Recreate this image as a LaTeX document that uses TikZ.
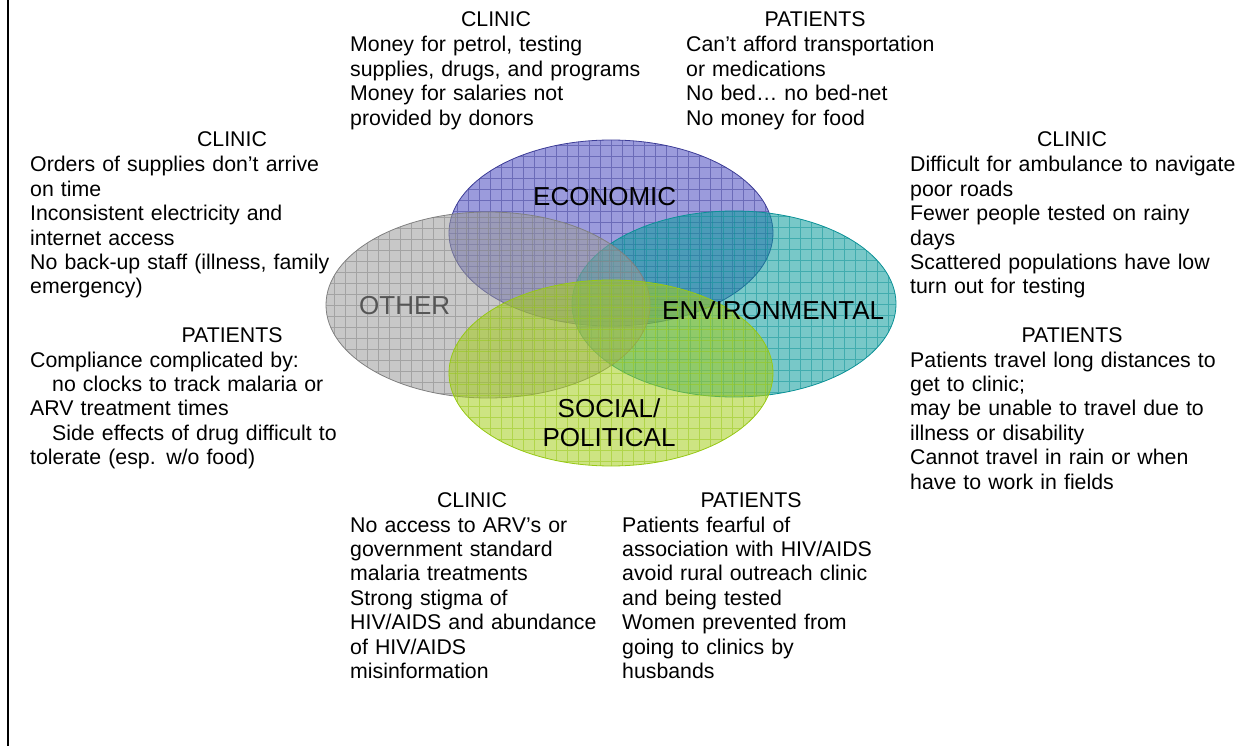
\documentclass[tikz,border=0pt]{standalone}
\usepackage{fontspec}
\setmainfont{Liberation Sans}
\usetikzlibrary{shapes.geometric}
\definecolor{econfill}{RGB}{73,73,191}
\definecolor{econline}{RGB}{60,60,150}
\definecolor{envfill}{RGB}{10,155,155}
\definecolor{envline}{RGB}{10,145,150}
\definecolor{socfill}{RGB}{164,205,27}
\definecolor{socline}{RGB}{150,200,20}
\definecolor{othfill}{RGB}{155,155,155}
\definecolor{othline}{RGB}{128,128,128}
\definecolor{othtext}{RGB}{85,85,85}
\begin{document}
\begin{tikzpicture}[x=1pt,y=-1pt,
  body/.style={font=\fontsize{21.3}{24.4}\selectfont, align=left, text width=420pt, inner sep=0pt, anchor=base west},
  head/.style={font=\fontsize{21.3}{24.4}\selectfont, inner sep=0pt, anchor=base},
  setlabel/.style={font=\fontsize{26}{30}\selectfont, inner sep=0pt, anchor=base west},
  venn/.style={ellipse, minimum width=324pt, minimum height=186pt, inner sep=0pt,
    fill=#1fill, fill opacity=.55, draw=#1line, line width=.8pt,
    path picture={\draw[#1line, draw opacity=.5, line width=.7pt, step=11pt]
      (path picture bounding box.south west) grid (path picture bounding box.north east);}},
]
\useasboundingbox (0,0) rectangle (1253,746);
% page edge rule
\draw[line width=2pt] (8,0) -- (8,746);

% the four overlapping sets
\node[venn=econ] (econ) at (611,233) {};
\node[venn=env]  (env)  at (734,304) {};
\node[venn=oth]  (oth)  at (488,305) {};
\node[venn=soc]  (soc)  at (611,373) {};

% set names
\node[setlabel] (econlbl) at (533,206) {ECONOMIC};
\node[setlabel] (envlbl)  at (662,319) {ENVIRONMENTAL};
\node[setlabel, text=othtext] (othlbl) at (359,314) {OTHER};
\node[font=\fontsize{26}{29}\selectfont, inner sep=0pt, align=center, anchor=base] (soclbl) at (609,446) {SOCIAL/\\POLITICAL};

% economic
\node[head] (econclinic) at (496,27) {CLINIC};
\node[body] (econclinictxt) at (350,52) {Money for petrol, testing\\supplies, drugs, and programs\\Money for salaries not\\provided by donors};
\node[head] (econpat) at (815,27) {PATIENTS};
\node[body] (econpattxt) at (686,52) {Can’t afford transportation\\or medications\\No bed… no bed-net\\No money for food};

% other
\node[head] (othclinic) at (232,147) {CLINIC};
\node[body] (othclinictxt) at (30,172) {Orders of supplies don’t arrive\\on time\\Inconsistent electricity and\\internet access\\No back-up staff (illness, family\\emergency)};
\node[head] (othpat) at (232,342) {PATIENTS};
\node[body] (othpattxt) at (30,367) {Compliance complicated by:\\\hspace*{22pt}no clocks to track malaria or\\ARV treatment times\\\hspace*{22pt}Side effects of drug difficult to\\tolerate (esp. w/o food)};

% environmental
\node[head] (envclinic) at (1072,147) {CLINIC};
\node[body] (envclinictxt) at (910,172) {Difficult for ambulance to navigate\\poor roads\\Fewer people tested on rainy\\days\\Scattered populations have low\\turn out for testing};
\node[head] (envpat) at (1072,342) {PATIENTS};
\node[body] (envpattxt) at (910,367) {Patients travel long distances to\\get to clinic;\\may be unable to travel due to\\illness or disability\\Cannot travel in rain or when\\have to work in fields};

% social / political
\node[head] (socclinic) at (472,507) {CLINIC};
\node[body] (socclinictxt) at (350,532) {No access to ARV’s or\\government standard\\malaria treatments\\Strong stigma of\\HIV/AIDS and abundance\\of HIV/AIDS\\misinformation};
\node[head] (socpat) at (751,507) {PATIENTS};
\node[body] (socpattxt) at (622,532) {Patients fearful of\\association with HIV/AIDS\\avoid rural outreach clinic\\and being tested\\Women prevented from\\going to clinics by\\husbands};
\end{tikzpicture}
\end{document}
